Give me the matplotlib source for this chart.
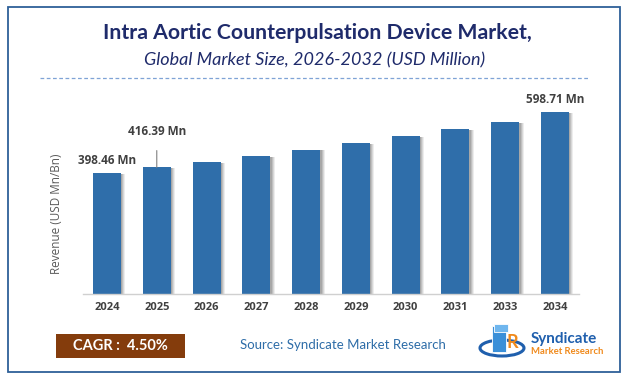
import matplotlib
matplotlib.use("Agg")
import matplotlib.pyplot as plt
from matplotlib.patches import Rectangle, Ellipse
from matplotlib.lines import Line2D
import numpy as np

years = ["2024", "2025", "2026", "2027", "2028", "2029", "2030", "2031", "2033", "2034"]
revenue = [398.46, 416.39, 435.1, 454.7, 475.2, 496.6, 518.9, 542.3, 566.7, 598.71]
labelled = {0: "398.46 Mn", 1: "416.39 Mn", 9: "598.71 Mn"}
title = "Intra Aortic Counterpulsation Device Market,"
subtitle = "Global Market Size, 2026-2032 (USD Million)"
cagr_text = "CAGR :  4.50%"
source_text = "Source: Syndicate Market Research"

W, H = 627, 378
BAR_COLOR = "#2F6EAA"
NAVY = "#1F2B6B"

fig = plt.figure(figsize=(W / 100, H / 100), dpi=100)
fig.patch.set_facecolor("white")


def px(x, y):
    """pixel coords (from top-left) -> figure fraction"""
    return x / W, 1 - y / H


# outer frame
fig.add_artist(Rectangle(px(8, 372), 612 / W, 365 / H, transform=fig.transFigure,
                         fill=False, edgecolor="#2E6099", linewidth=1.3))

# titles
fig.text(*px(317, 33), title, ha="center", va="center", fontsize=15.3,
         fontweight="bold", color=NAVY, family="Lato")
fig.text(*px(315, 60), subtitle, ha="center", va="center", fontsize=13,
         style="italic", color=NAVY, family="Lato")
fig.add_artist(Line2D([40 / W, 590 / W], [1 - 78 / H] * 2, transform=fig.transFigure,
                      color="#7FA3D6", linewidth=0.9, linestyle=(0, (3, 2))))

# chart axes
ax_left, ax_right, base_y = 83, 579, 294
ymax = 700
ax_h = ymax / 3.29
ax = fig.add_axes([ax_left / W, 1 - base_y / H, (ax_right - ax_left) / W, ax_h / H])
ax.set_xlim(-0.482, 9.482)
ax.set_ylim(0, ymax)
ax.patch.set_alpha(0)

x = np.arange(len(years))
bw = 0.562
# soft shadow to the right of each bar
for k, a in zip([0.09, 0.07, 0.05, 0.03], [0.10, 0.14, 0.18, 0.22]):
    ax.bar(x + k, np.array(revenue) - 3, bw, color="#555555", alpha=a, linewidth=0, zorder=1)
ax.bar(x, revenue, bw, color=BAR_COLOR, linewidth=0, zorder=2)

for spine in ("top", "right", "left"):
    ax.spines[spine].set_visible(False)
ax.spines["bottom"].set_color("#D0D0D0")
ax.spines["bottom"].set_linewidth(1.0)
ax.set_yticks([])
ax.set_xticks(x)
ax.set_xticklabels(years, fontsize=8, fontweight="bold", color="#404040", family="Open Sans")
ax.tick_params(axis="x", length=0, pad=6)

fig.text(*px(57, 214), "Revenue (USD Mn/Bn)", rotation=90, ha="center", va="center",
         fontsize=8.5, color="#595959", family="Open Sans")

for i, txt in labelled.items():
    v = revenue[i]
    if i == 1:
        ax.annotate(txt, xy=(i, v), xytext=(i, v + 118), ha="center", va="center",
                    fontsize=8.5, fontweight="bold", color="#404040", family="Open Sans",
                    arrowprops=dict(arrowstyle="-", color="#808080", lw=0.8, shrinkA=7, shrinkB=0))
    else:
        ax.text(i, v + 42, txt, ha="center", va="center", fontsize=8.5,
                fontweight="bold", color="#404040", family="Open Sans")

# footer: CAGR box
fig.add_artist(Rectangle(px(56, 358), 129 / W, 24 / H, transform=fig.transFigure,
                         facecolor="#843C0C", edgecolor="none"))
fig.text(*px(120, 346), cagr_text, ha="center", va="center", fontsize=10.5,
         fontweight="bold", color="white", family="Lato")
fig.text(*px(343, 345), source_text, ha="center", va="center", fontsize=9.5,
         color="#2E6DA8", family="Lato")

# simplified logo
lax = fig.add_axes([478 / W, 1 - 362 / H, 50 / W, 42 / H])
lax.set_xlim(0, 50)
lax.set_ylim(0, 42)
lax.axis("off")
lax.add_patch(Ellipse((24, 14), 44, 16, fill=False, edgecolor="#1F5FAD", linewidth=2.2))
lax.add_patch(Rectangle((14, 10), 14, 26, facecolor="#3A8FD8", edgecolor="white", linewidth=0.6))
lax.add_patch(Rectangle((16, 30), 14, 8, facecolor="#6FB6EE", edgecolor="white", linewidth=0.6))
lax.text(34, 20, "R", ha="center", va="center", fontsize=13, fontweight="bold",
         color="#F08A1C", family="Lato")
fig.text(*px(531, 339), "Syndicate", ha="left", va="center", fontsize=11,
         fontweight="bold", color="#1F5FAD", family="Lato")
fig.text(*px(531, 352), "Market Research", ha="left", va="center", fontsize=6.8,
         fontweight="bold", color="#F08A1C", family="Lato")

fig.savefig("out.png", dpi=100)
